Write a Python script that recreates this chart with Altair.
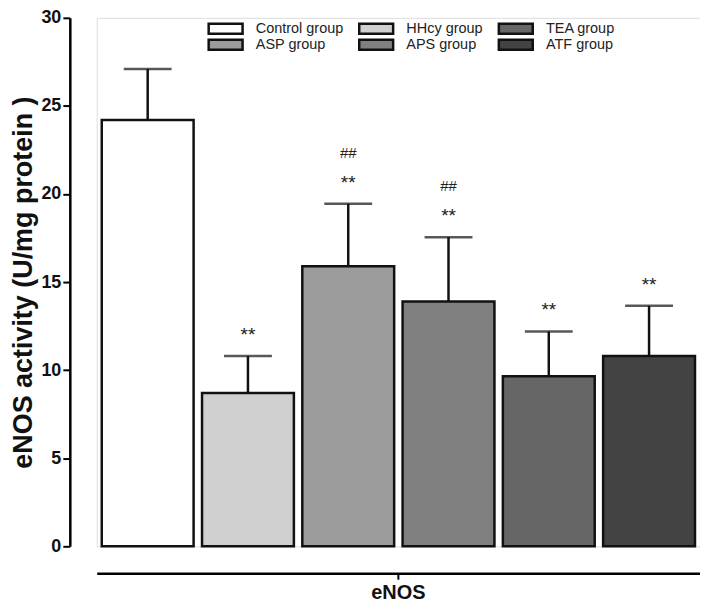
import altair as alt
import pandas as pd

groups = ["Control group", "HHcy group", "ASP group", "APS group", "TEA group", "ATF group"]
means = [24.2, 8.7, 15.9, 13.9, 9.65, 10.8]
sds = [2.9, 2.1, 3.55, 3.65, 2.55, 2.85]
stars = ["", "**", "**", "**", "**", "**"]
hashes = ["", "", "##", "##", "", ""]
marker = "eNOS"

# legend is filled column by column (2 rows x 3 columns)
legend_order = ["Control group", "ASP group", "HHcy group", "APS group", "TEA group", "ATF group"]
legend_colors = ["#ffffff", "#9b9b9b", "#d0d0d0", "#808080", "#666666", "#434343"]

df = pd.DataFrame({
    "group": groups,
    "mean": means,
    "upper": [m + s for m, s in zip(means, sds)],
    "stars": stars,
    "hashes": hashes,
    "marker": [marker] * len(groups),
})

FONT = "Liberation Sans"

x = alt.X("marker:N", title=None,
          scale=alt.Scale(paddingInner=0, paddingOuter=0),
          axis=alt.Axis(offset=27, domainColor="black", domainWidth=2.5,
                        tickColor="black", tickWidth=2, tickSize=6,
                        labelFont=FONT, labelFontSize=20, labelFontWeight="bold",
                        labelColor="#111", labelPadding=3, labelAngle=0))
xo = alt.XOffset("group:N", sort=groups,
                 scale=alt.Scale(paddingInner=0.084, paddingOuter=0.05))
yscale = alt.Scale(domain=[0, 30], nice=False)

base = alt.Chart(df)

rule = base.mark_rule(color="#111", strokeWidth=2.5).encode(
    x=x, xOffset=xo,
    y=alt.Y("mean:Q", scale=yscale), y2="upper:Q")

cap = base.mark_tick(color="#111", thickness=2.5, size=48).encode(
    x=x, xOffset=xo, y=alt.Y("upper:Q", scale=yscale))

bars = base.mark_bar(stroke="#111", strokeWidth=2.5, opacity=1).encode(
    x=x, xOffset=xo,
    y=alt.Y("mean:Q", scale=yscale,
            title="eNOS activity (U/mg protein )",
            axis=alt.Axis(values=[0, 5, 10, 15, 20, 25, 30], offset=27,
                          domainColor="black", domainWidth=2.5,
                          tickColor="black", tickWidth=2, tickSize=7,
                          labelFont=FONT, labelFontSize=18, labelFontWeight="bold",
                          labelColor="#111", labelPadding=2,
                          titleFont=FONT, titleFontSize=27, titleFontWeight="bold",
                          titleColor="#111", titlePadding=3, grid=False)),
    fill=alt.Fill("group:N",
                  scale=alt.Scale(domain=legend_order, range=legend_colors),
                  legend=alt.Legend(title=None, orient="none", legendX=107.5, legendY=4,
                                    columns=3, columnPadding=11, rowPadding=1,
                                    clipHeight=14,
                                    symbolType="M-0.5,-1H6.3V1H-0.5Z", symbolSize=100,
                                    symbolStrokeColor="#111", symbolStrokeWidth=2.5,
                                    symbolOpacity=1, labelOffset=37.5,
                                    labelFont=FONT, labelFontSize=14.5, labelColor="#222")),
)

star_text = base.mark_text(font=FONT, fontSize=19, color="#222", baseline="alphabetic",
                           dy=-15).encode(
    x=x, xOffset=xo, y=alt.Y("upper:Q", scale=yscale), text="stars:N")

hash_text = base.mark_text(font=FONT, fontSize=15, color="#222", baseline="alphabetic",
                           dy=-46).encode(
    x=x, xOffset=xo, y=alt.Y("upper:Q", scale=yscale), text="hashes:N")

chart = alt.layer(rule, cap, bars, star_text, hash_text).properties(
    width=605, height=530,
    autosize=alt.AutoSizeParams(type="none"),
    padding={"left": 89, "top": 9, "right": 0, "bottom": 55},
).configure_view(stroke=None).configure(background="white")

chart.save("out.html", embed_options={"renderer": "svg", "actions": False})
